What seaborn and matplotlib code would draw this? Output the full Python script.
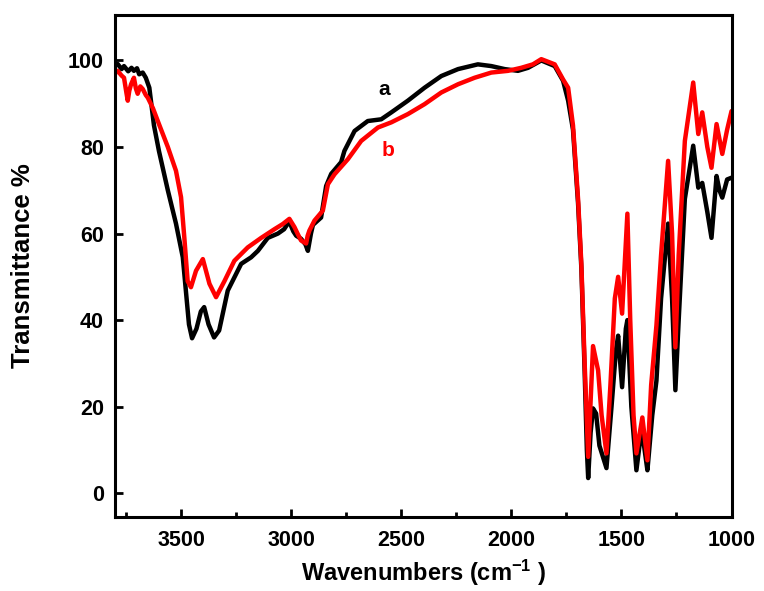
import numpy as np
import pandas as pd
import matplotlib
matplotlib.use("Agg")
import matplotlib.pyplot as plt
import seaborn as sns
from matplotlib.ticker import MultipleLocator

# sample a (black)
wn_a = [3800, 3788, 3770, 3759, 3740, 3725, 3714, 3700, 3690, 3674, 3660, 3644,
        3623, 3600, 3560, 3523, 3492, 3464, 3450, 3430, 3410, 3395, 3375, 3350,
        3327, 3288, 3227, 3182, 3151, 3106, 3060, 3032, 3009, 2990, 2977, 2955,
        2935, 2924, 2910, 2901, 2864, 2841, 2818, 2773, 2758, 2712, 2652, 2591,
        2545, 2470, 2394, 2318, 2242, 2152, 2091, 2030, 1970, 1924, 1864, 1803,
        1765, 1742, 1720, 1697, 1682, 1667, 1657, 1651, 1640, 1629, 1615, 1600,
        1568, 1545, 1525, 1515, 1497, 1480, 1473, 1455, 1432, 1418, 1405, 1392,
        1382, 1360, 1341, 1320, 1288, 1270, 1255, 1240, 1212, 1174, 1151, 1133,
        1110, 1091, 1068, 1055, 1042, 1020, 1000]
tr_a = [99.0, 99.2, 98.0, 98.7, 97.5, 98.3, 97.6, 98.2, 96.8, 97.2, 96.0, 93.7,
        85.0, 79.0, 70.0, 62.3, 54.5, 39.0, 35.8, 38.0, 42.0, 43.0, 39.0, 36.0,
        37.6, 46.8, 53.0, 54.5, 56.0, 59.0, 60.0, 61.0, 62.8, 60.5, 59.5, 58.8,
        57.5, 56.0, 60.0, 62.0, 63.7, 71.0, 73.8, 76.5, 79.1, 83.7, 86.0, 86.4,
        88.0, 90.7, 93.7, 96.4, 98.0, 99.1, 98.7, 98.0, 97.6, 98.3, 100.0, 98.7,
        95.3, 90.7, 84.0, 67.0, 52.0, 28.0, 10.0, 3.5, 14.0, 19.6, 18.4, 11.0,
        5.8, 20.0, 33.0, 36.4, 24.5, 38.0, 40.0, 20.0, 5.3, 11.0, 13.8, 9.0,
        5.3, 18.0, 26.0, 45.0, 62.3, 45.0, 23.8, 40.0, 68.0, 80.3, 70.6, 71.7,
        65.0, 59.0, 73.3, 70.0, 68.3, 72.5, 72.9]

# sample b (red)
wn_b = [3800, 3788, 3770, 3759, 3748, 3742, 3735, 3727, 3714, 3705, 3697, 3685,
        3674, 3660, 3651, 3628, 3598, 3560, 3523, 3500, 3485, 3470, 3455, 3432,
        3401, 3371, 3341, 3303, 3258, 3197, 3136, 3076, 3038, 3008, 2985, 2970,
        2955, 2932, 2925, 2917, 2894, 2856, 2833, 2803, 2742, 2682, 2606, 2545,
        2470, 2394, 2318, 2242, 2167, 2091, 2015, 1955, 1902, 1864, 1803, 1765,
        1742, 1720, 1697, 1682, 1667, 1651, 1629, 1606, 1590, 1568, 1550, 1530,
        1515, 1497, 1473, 1460, 1445, 1432, 1405, 1382, 1365, 1341, 1320, 1288,
        1270, 1255, 1240, 1212, 1174, 1151, 1133, 1110, 1091, 1068, 1042, 1020,
        1000]
tr_b = [97.0, 97.6, 96.5, 96.0, 92.5, 90.7, 93.0, 94.5, 96.0, 93.5, 92.3, 94.0,
        93.4, 92.0, 91.4, 89.0, 85.0, 80.0, 74.5, 68.4, 59.0, 49.0, 47.6, 51.4,
        54.1, 48.4, 45.3, 49.0, 53.7, 56.8, 59.0, 61.0, 62.2, 63.4, 61.5, 59.9,
        58.4, 57.7, 59.5, 60.7, 63.0, 65.3, 71.4, 73.7, 77.2, 81.4, 84.5, 85.7,
        87.6, 89.9, 92.6, 94.5, 96.0, 97.2, 97.6, 98.3, 99.1, 100.3, 99.1, 95.6,
        93.7, 85.0, 68.0, 53.0, 30.0, 8.4, 34.0, 28.4, 18.0, 9.2, 25.0, 45.0,
        50.0, 41.5, 64.6, 40.0, 18.0, 9.2, 17.5, 7.6, 25.0, 38.8, 55.0, 76.8,
        60.0, 33.7, 55.0, 81.4, 94.9, 83.0, 88.0, 80.0, 75.2, 85.3, 78.4, 84.0,
        88.3]

df_a = pd.DataFrame({"wn": wn_a, "T": tr_a})
df_b = pd.DataFrame({"wn": wn_b, "T": tr_b})

sns.set_style("ticks")
plt.rcParams['font.family'] = ['Liberation Sans', 'DejaVu Sans']
plt.rcParams['font.weight'] = 'bold'
plt.rcParams['mathtext.fontset'] = 'custom'
plt.rcParams['mathtext.rm'] = 'Liberation Sans:bold'
plt.rcParams['mathtext.bf'] = 'Liberation Sans:bold'
plt.rcParams['mathtext.default'] = 'bf'
for key in ['text.color', 'axes.labelcolor', 'xtick.color', 'ytick.color', 'axes.edgecolor']:
    plt.rcParams[key] = 'black'

fig = plt.figure(figsize=(7.64, 5.91), dpi=100)
ax = fig.add_axes([0.1505, 0.1252, 0.807, 0.8494])

sns.lineplot(data=df_a, x="wn", y="T", color="black", linewidth=3.2, ax=ax)
sns.lineplot(data=df_b, x="wn", y="T", color="#ff0000", linewidth=3.2, ax=ax)

ax.set_xlim(3800, 1000)
ax.set_ylim(-5.5, 110.5)
ax.xaxis.set_major_locator(MultipleLocator(500))
ax.xaxis.set_minor_locator(MultipleLocator(250))
ax.set_yticks([0, 20, 40, 60, 80, 100])

ax.tick_params(axis='both', which='major', direction='in', length=6, width=2,
               labelsize=15.5)
ax.tick_params(axis='x', which='major', pad=9)
ax.tick_params(axis='y', which='major', pad=8)
ax.tick_params(axis='x', which='minor', direction='in', length=3.5, width=2)
for lab in ax.get_xticklabels() + ax.get_yticklabels():
    lab.set_fontweight('bold')
for sp in ax.spines.values():
    sp.set_linewidth(2.2)
    sp.set_color('black')

ax.set_xlabel("Wavenumbers (cm$^{-1}$ )", fontsize=17, fontweight='bold', labelpad=5)
ax.set_ylabel("Transmittance %", fontsize=18.5, fontweight='bold', labelpad=24)

ax.text(2577, 93.4, "a", color="black", fontsize=15, fontweight='bold',
        ha='center', va='center')
ax.text(2559, 79.1, "b", color="#ff0000", fontsize=15, fontweight='bold',
        ha='center', va='center')

fig.savefig("out.png", dpi=100)
